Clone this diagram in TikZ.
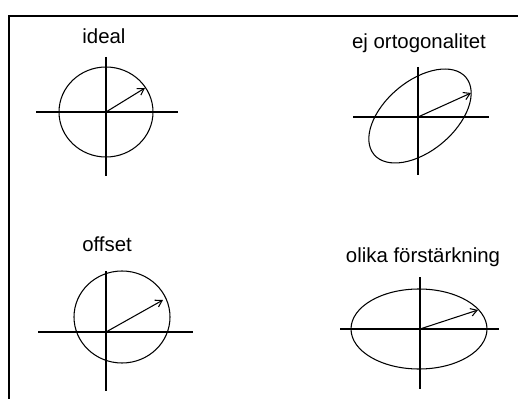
\documentclass[tikz,border=0pt]{standalone}
\usepackage{fontspec}
\setmainfont{Liberation Sans}
\usetikzlibrary{arrows.meta}
\begin{document}
\begin{tikzpicture}[x=0.025cm, y=-0.025cm,
  axis/.style={line width=1pt},
  curve/.style={line width=0.75pt},
  vec/.style={-{Straight Barb[length=4.5pt, width=5.5pt]}, line width=0.75pt},
  lab/.style={font=\fontsize{14.5}{17}\selectfont, inner sep=0pt, anchor=base}
]
\useasboundingbox (0,0) rectangle (518,399);
\draw[line width=1.5pt] (518,16) -- (9,16) -- (9,399);

% ideal
\node[lab] (lab1) at (104,44) {ideal};
\coordinate (o1) at (106,112);
\coordinate (w1) at (36,112);
\coordinate (e1) at (178,112);
\coordinate (n1) at (106,57);
\coordinate (s1) at (106,176);
\coordinate (t1) at (145,88);
\draw[axis] (w1) -- (e1);
\draw[axis] (n1) -- (s1);
\draw[curve] (o1) ellipse [x radius=47, y radius=45];
\draw[vec] (o1) -- (t1);

% ej ortogonalitet
\node[lab] (lab2) at (419,49) {ej ortogonalitet};
\coordinate (o2) at (418,117);
\coordinate (w2) at (353,117);
\coordinate (e2) at (489,117);
\coordinate (n2) at (418,67);
\coordinate (s2) at (418,175);
\coordinate (t2) at (471,93);
\coordinate (c2) at (420,116);
\draw[axis] (w2) -- (e2);
\draw[axis] (n2) -- (s2);
\draw[curve, rotate around={40:(c2)}] (c2) ellipse [x radius=60, y radius=35];
\draw[vec] (o2) -- (t2);

% offset
\node[lab] (lab3) at (107,251) {offset};
\coordinate (o3) at (106,332);
\coordinate (w3) at (38,332);
\coordinate (e3) at (193,332);
\coordinate (n3) at (106,271);
\coordinate (s3) at (106,391);
\coordinate (t3) at (163,300);
\coordinate (c3) at (122,317);
\draw[axis] (w3) -- (e3);
\draw[axis] (n3) -- (s3);
\draw[curve] (c3) ellipse [x radius=48, y radius=46];
\draw[vec] (o3) -- (t3);

% olika forstarkning
\node[lab] (lab4) at (423,262) {olika förstärkning};
\coordinate (o4) at (420,329);
\coordinate (w4) at (340,329);
\coordinate (e4) at (499,329);
\coordinate (n4) at (420,277);
\coordinate (s4) at (420,389);
\coordinate (t4) at (478,310);
\coordinate (c4) at (419,329);
\draw[axis] (w4) -- (e4);
\draw[axis] (n4) -- (s4);
\draw[curve] (c4) ellipse [x radius=68, y radius=40];
\draw[vec] (o4) -- (t4);
\end{tikzpicture}
\end{document}
